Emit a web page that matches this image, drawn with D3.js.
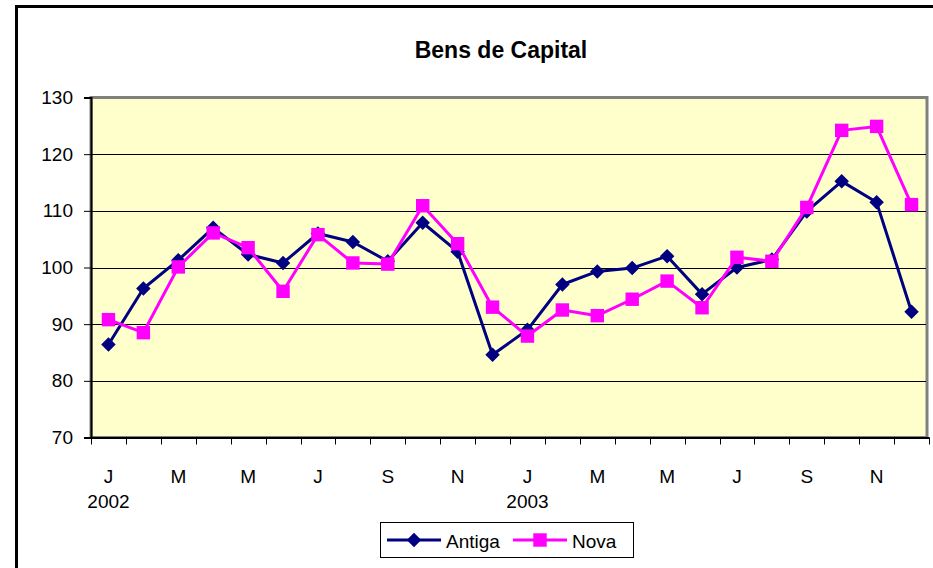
<!doctype html>
<html>
<head>
<meta charset="utf-8">
<script src="https://d3js.org/d3.v7.min.js"></script>
<style>
  body { margin: 0; background: #fff; }
  svg { display: block; font-family: "Liberation Sans", Arial, sans-serif; }
</style>
</head>
<body>
<svg width="933" height="568"></svg>
<script>
// data, Jan 2002 .. Dec 2003
var months = ["J","F","M","A","M","J","J","A","S","O","N","D",
              "J","F","M","A","M","J","J","A","S","O","N","D"];
var years = ["2002", "2003"];
var antiga = [86.4, 96.3, 101.3, 107.0, 102.3, 100.8, 106.0, 104.5, 101.1, 107.9, 102.8, 84.6,
              89.0, 97.0, 99.3, 99.9, 102.0, 95.3, 100.0, 101.4, 109.9, 115.2, 111.5, 92.2];
var nova   = [90.8, 88.5, 100.1, 106.1, 103.5, 95.8, 105.8, 100.8, 100.6, 110.9, 104.2, 93.0,
              87.9, 92.5, 91.5, 94.4, 97.6, 92.9, 101.8, 101.1, 110.6, 124.2, 124.9, 111.1];
var yTicks = [70, 80, 90, 100, 110, 120, 130];

var svg = d3.select("svg");

// outer frame (only top/left visible)
svg.append("path")
   .attr("d", "M16.5,960 V6.5 H960")
   .attr("fill", "none")
   .attr("stroke", "#000")
   .attr("stroke-width", 3);

svg.append("text")
   .attr("x", 501)
   .attr("y", 58)
   .attr("text-anchor", "middle")
   .attr("font-size", "23px")
   .attr("font-weight", "bold")
   .text("Bens de Capital");

var pL = 91, pR = 929, pT = 97.5, pB = 437.5;

var idx = d3.range(months.length);
var x = d3.scaleBand().domain(idx).range([pL, pR]);
var y = d3.scaleLinear().domain([70, 130]).range([pB, pT]);
var cx = function(i) { return x(i) + x.bandwidth() / 2; };

// plot background + border
svg.append("rect")
   .attr("x", pL).attr("y", pT)
   .attr("width", pR - pL - 2).attr("height", pB - pT)
   .attr("fill", "#ffffcc")
   .attr("stroke", "#808080")
   .attr("stroke-width", 3);

// gridlines
svg.append("g")
   .selectAll("line")
   .data(yTicks.filter(function(d) { return d > 70 && d < 130; }))
   .enter().append("line")
   .attr("x1", pL).attr("x2", pR - 3)
   .attr("y1", function(d) { return Math.round(y(d)) + 0.5; })
   .attr("y2", function(d) { return Math.round(y(d)) + 0.5; })
   .attr("stroke", "#000")
   .attr("stroke-width", 1);

// y axis
var yAxis = svg.append("g")
   .attr("transform", "translate(" + pL + ",0)")
   .call(d3.axisLeft(y).tickValues(yTicks).tickSize(7).tickPadding(11));
yAxis.select(".domain").attr("stroke", "#000").attr("stroke-width", 2);
yAxis.selectAll(".tick line").attr("stroke", "#000");
yAxis.selectAll("text").attr("font-size", "19px").attr("fill", "#000")
     .attr("font-family", "Liberation Sans, Arial, sans-serif");

// x axis: ticks at category boundaries
var xAxis = svg.append("g")
   .attr("transform", "translate(0," + pB + ")")
   .call(d3.axisBottom(x).tickSize(0).tickFormat(""));
xAxis.select(".domain").attr("stroke", "#000").attr("stroke-width", 2);
xAxis.selectAll(".bnd")
   .data(d3.range(months.length + 1))
   .enter().append("line")
   .attr("class", "bnd")
   .attr("x1", function(i) { return Math.round(pL + i * x.step()) + 0.5; })
   .attr("x2", function(i) { return Math.round(pL + i * x.step()) + 0.5; })
   .attr("y1", 0).attr("y2", 7)
   .attr("stroke", "#000");

svg.append("g")
   .selectAll("text")
   .data(idx.filter(function(i) { return i % 2 === 0; }))
   .enter().append("text")
   .attr("x", cx)
   .attr("y", 483)
   .attr("text-anchor", "middle")
   .attr("font-size", "19px")
   .text(function(i) { return months[i]; });

svg.append("g")
   .selectAll("text")
   .data(years)
   .enter().append("text")
   .attr("x", function(d, k) { return cx(k * 12); })
   .attr("y", 508)
   .attr("text-anchor", "middle")
   .attr("font-size", "19px")
   .text(function(d) { return d; });

// series
var line = d3.line().x(function(d, i) { return cx(i); }).y(function(d) { return y(d); });
var series = [
  { name: "Antiga", values: antiga, color: "#000080", size: 105, rot: 45 },
  { name: "Nova",   values: nova,   color: "#ff00ff", size: 180, rot: 0 }
];

series.forEach(function(s) {
  svg.append("path")
     .datum(s.values)
     .attr("fill", "none")
     .attr("stroke", s.color)
     .attr("stroke-width", 3)
     .attr("stroke-linejoin", "round")
     .attr("d", line);
  var sym = d3.symbol().type(d3.symbolSquare).size(s.size);
  svg.append("g")
     .selectAll("path")
     .data(s.values)
     .enter().append("path")
     .attr("transform", function(d, i) {
        return "translate(" + cx(i) + "," + y(d) + ") rotate(" + s.rot + ")";
     })
     .attr("d", sym)
     .attr("fill", s.color);
});

// legend
var lg = svg.append("g");
lg.append("rect")
  .attr("x", 380.5).attr("y", 522.5)
  .attr("width", 253).attr("height", 35)
  .attr("fill", "#fff").attr("stroke", "#000");
var lx = [387, 513];
series.forEach(function(s, k) {
  var g = lg.append("g").attr("transform", "translate(" + lx[k] + ",540)");
  g.append("line").attr("x1", 0).attr("x2", 54).attr("stroke", s.color).attr("stroke-width", 3);
  g.append("path").attr("transform", "translate(27,0) rotate(" + s.rot + ")")
   .attr("d", d3.symbol().type(d3.symbolSquare).size(s.size)).attr("fill", s.color);
  g.append("text").attr("x", 59).attr("y", 8)
   .attr("font-size", "19px").text(s.name);
});
</script>
</body>
</html>
